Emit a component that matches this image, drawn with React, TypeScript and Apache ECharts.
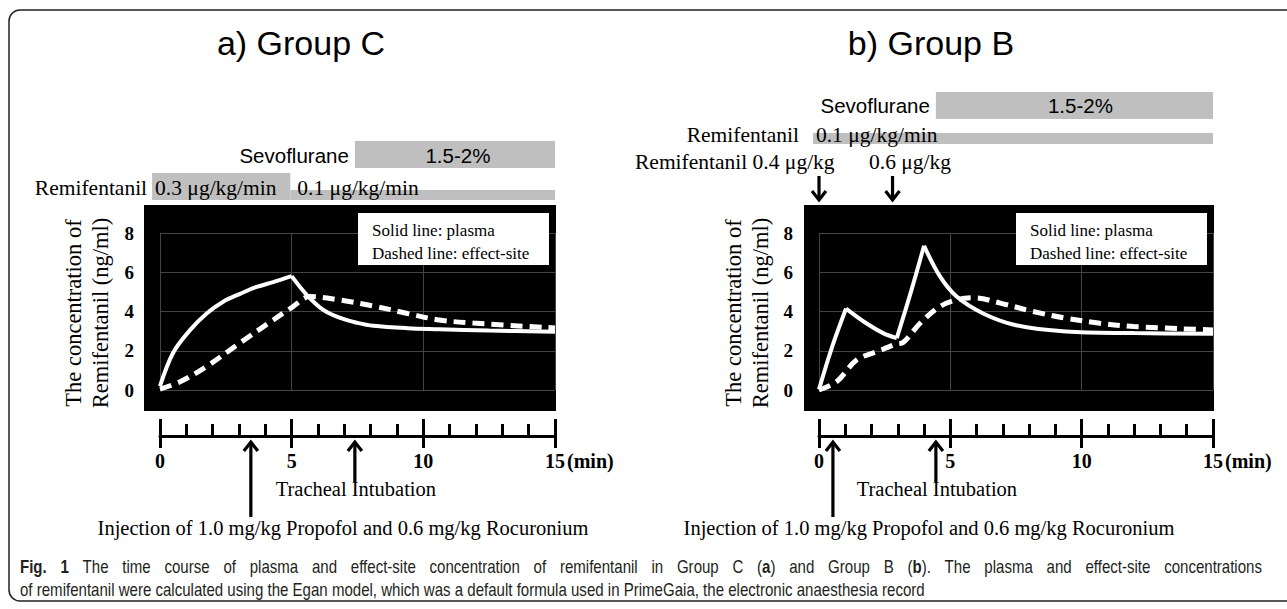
import React, { useEffect, useRef } from 'react';
import * as echarts from 'echarts';

const W = 1287;
const H = 609;
const SERIF = 'Liberation Serif, Times New Roman, serif';
const SANS = 'Liberation Sans, Arial, sans-serif';

// ---- Data (time in min, concentration in ng/ml) ----
// Group C
const cPlasmaRiseT = [0, 0.5, 1.14, 1.77, 2.4, 3.04, 3.67, 4.3, 5];
const cPlasmaRiseV = [0.2, 1.9, 3.05, 3.9, 4.5, 4.9, 5.25, 5.5, 5.8];
const cPlasmaDecayT = [5, 5.57, 6.2, 6.84, 7.5, 8.1, 9.4, 10.6, 12.5, 15];
const cPlasmaDecayV = [5.8, 4.85, 4.08, 3.67, 3.42, 3.27, 3.15, 3.1, 3.03, 2.97];
const cEffectT = [0, 0.76, 1.77, 3.04, 4.3, 5, 5.7, 6.8, 8.1, 9.4, 10.6, 11.9, 15];
const cEffectV = [0.05, 0.42, 1.2, 2.4, 3.57, 4.2, 4.76, 4.59, 4.28, 3.9, 3.57, 3.41, 3.16];

// Group B
const bPlasma1T = [0, 0.5, 1.03];
const bPlasma1V = [0.03, 2.2, 4.15];
const bPlasma2T = [1.03, 1.8, 2.44, 2.96];
const bPlasma2V = [4.15, 3.4, 2.9, 2.64];
const bPlasma3T = [2.96, 3.5, 4.0];
const bPlasma3V = [2.64, 5.0, 7.35];
const bPlasma4T = [4.0, 4.6, 5.24, 6.25, 7.5, 9.4, 12, 15];
const bPlasma4V = [7.35, 5.8, 4.76, 3.9, 3.3, 2.98, 2.9, 2.87];
const bEffectT = [0, 0.67, 1.43, 2.2, 2.96, 3.2, 3.85, 4.6, 5.24, 5.9, 6.9, 8.15, 9.4, 10.7, 12, 15];
const bEffectV = [0, 0.42, 1.53, 1.95, 2.35, 2.42, 3.4, 4.25, 4.6, 4.7, 4.43, 4.0, 3.66, 3.4, 3.23, 3.06];

const yTicks = [0, 2, 4, 6, 8];
const xMajorLabels = ['0', '5', '10', '15'];

// Event times (min)
const cInjectionT = 3.45;
const cIntubationT = 7.4;
const cSevoStartT = 7.4;
const cRemi03EndT = 4.95;
const bInjectionT = 0.53;
const bIntubationT = 4.45;
const bSevoStartT = 4.45;
const bBolus1T = 0;
const bBolus2T = 2.8;

const zip = (t: number[], v: number[]) => t.map((x, i) => [x, v[i]]);

export default function App() {
  const ref = useRef<HTMLDivElement>(null);
  useEffect(() => {
    document.body.style.margin = '0';
    const chart = echarts.init(ref.current!, null, { renderer: 'svg' });

    const grids = [
      { left: 160, top: 233, width: 395, height: 157 },
      { left: 819, top: 233, width: 394, height: 157 },
    ];

    const xAxes: any[] = [];
    const yAxes: any[] = [];
    [0, 1].forEach((g) => {
      xAxes.push({
        type: 'value', gridIndex: g, min: 0, max: 15, interval: 5,
        axisLine: { show: false }, axisTick: { show: false }, axisLabel: { show: false },
        splitLine: { show: true, lineStyle: { color: '#444', width: 1 } },
      });
      xAxes.push({
        type: 'value', gridIndex: g, min: 0, max: 15, interval: 5, position: 'bottom', offset: 46,
        axisLine: { show: true, lineStyle: { color: '#000', width: 3 } },
        axisTick: { show: true, inside: true, length: 17, lineStyle: { color: '#000', width: 3 } },
        minorTick: { show: true, splitNumber: 5, length: 12, lineStyle: { color: '#000', width: 3 } },
        splitLine: { show: false },
        axisLabel: {
          show: true, margin: 15, color: '#000', fontFamily: SERIF, fontWeight: 'bold', fontSize: 20,
          formatter: (v: number) => xMajorLabels[Math.round(v / 5)] ?? '',
        },
      });
      xAxes.push({
        type: 'value', gridIndex: g, min: 0, max: 15, interval: 5, position: 'bottom', offset: 46,
        axisLine: { show: false },
        axisTick: { show: true, inside: false, length: 12, lineStyle: { color: '#000', width: 3 } },
        axisLabel: { show: false }, splitLine: { show: false },
      });
      yAxes.push({
        type: 'value', gridIndex: g, min: 0, max: 8, interval: 2,
        axisLine: { show: false }, axisTick: { show: false },
        axisLabel: {
          show: true, margin: 26, color: '#000', fontFamily: SERIF, fontWeight: 'bold', fontSize: 19,
          formatter: (v: number) => (yTicks.includes(v) ? String(v) : ''),
        },
        splitLine: { show: true, lineStyle: { color: '#444', width: 1 } },
      });
    });

    const solid = { color: '#fff', width: 4, type: 'solid' as const };
    const dashed = { color: '#fff', width: 5, type: [12, 7] as any };
    const mk = (name: string, xi: number, yi: number, data: number[][], ls: any) => ({
      name, type: 'line', xAxisIndex: xi, yAxisIndex: yi, data, smooth: 0.35,
      showSymbol: false, symbol: 'none', lineStyle: ls, z: 5, clip: false,
    });

    const series = [
      mk('C plasma rise', 0, 0, zip(cPlasmaRiseT, cPlasmaRiseV), solid),
      mk('C plasma decay', 0, 0, zip(cPlasmaDecayT, cPlasmaDecayV), solid),
      mk('C effect-site', 0, 0, zip(cEffectT, cEffectV), dashed),
      mk('B plasma 1', 3, 1, zip(bPlasma1T, bPlasma1V), solid),
      mk('B plasma 2', 3, 1, zip(bPlasma2T, bPlasma2V), solid),
      mk('B plasma 3', 3, 1, zip(bPlasma3T, bPlasma3V), solid),
      mk('B plasma 4', 3, 1, zip(bPlasma4T, bPlasma4V), solid),
      mk('B effect-site', 3, 1, zip(bEffectT, bEffectV), dashed),
    ];

    chart.setOption({
      animation: false,
      backgroundColor: '#fff',
      grid: grids,
      xAxis: xAxes,
      yAxis: yAxes,
      series,
    });

    const px = (g: number, t: number) => (chart.convertToPixel({ gridIndex: g } as any, [t, 0]) as number[])[0];

    const text = (t: string, x: number, y: number, font: string, align = 'left', extra: any = {}) => ({
      type: 'text', x, y, z: 20,
      style: { text: t, font, fill: '#000', align, textAlign: align, verticalAlign: 'middle', textVerticalAlign: 'middle', ...extra },
    });
    const rect = (x: number, y: number, w: number, h: number, fill: string, z = 10) => ({
      type: 'rect', z, shape: { x, y, width: w, height: h }, style: { fill },
    });
    const line = (pts: number[][]) => ({ type: 'polyline', z: 20, shape: { points: pts }, style: { stroke: '#000', lineWidth: 3.2, fill: null } });
    const upArrow = (x: number, yTip: number, yEnd: number) => ([
      line([[x, yTip + 2], [x, yEnd]]),
      line([[x - 7, yTip + 10], [x, yTip + 1], [x + 7, yTip + 10]]),
    ]);
    const downArrow = (x: number, yStart: number, yTip: number) => ([
      line([[x, yStart], [x, yTip - 2]]),
      line([[x - 7, yTip - 10], [x, yTip - 1], [x + 7, yTip - 10]]),
    ]);

    const f20s = `20.5px ${SANS}`;
    const f21 = `21.5px ${SERIF}`;
    const fAnn = `20.5px ${SERIF}`;
    const f17 = `17px ${SERIF}`;
    const grey = '#bfbfbf';

    const els: any[] = [];
    els.push({ type: 'rect', z: 1, shape: { x: 9, y: 10, width: 1320, height: 591, r: 11 }, style: { fill: 'none', stroke: '#222', lineWidth: 1.5 } });

    // black plot backgrounds
    const c0 = px(0, 0), c15 = px(0, 15);
    const b0 = px(1, 0), b15 = px(1, 15);
    els.push(rect(c0 - 16, 205, c15 - c0 + 17, 206, '#000', -10));
    els.push(rect(b0 - 15, 205, b15 - b0 + 16, 206, '#000', -10));

    // titles
    els.push(text('a) Group C', 301, 43, `34px ${SANS}`, 'center'));
    els.push(text('b) Group B', 931, 43, `34px ${SANS}`, 'center'));

    // ---- Group C top bars ----
    const cSevo = px(0, cSevoStartT);
    els.push(rect(cSevo, 141, c15 - cSevo, 27, grey));
    els.push(text('Sevoflurane', cSevo - 6, 155, f20s, 'right'));
    els.push(text('1.5-2%', (cSevo + c15) / 2 + 3, 155, f20s, 'center'));
    const cR0 = px(0, -0.3), cR1 = px(0, cRemi03EndT);
    els.push(rect(cR0, 173, cR1 - cR0, 27, grey));
    els.push(rect(cR1, 190, c15 - cR1, 10, grey));
    els.push(text('Remifentanil', cR0 - 5, 188, f21, 'right'));
    els.push(text('0.3 μg/kg/min', cR0 + 3, 188, f21, 'left'));
    els.push(text('0.1 μg/kg/min', cR1 + 7, 188, f21, 'left'));

    // ---- Group B top bars ----
    const bSevo = px(1, bSevoStartT);
    els.push(rect(bSevo, 92, b15 - bSevo, 27, grey));
    els.push(text('Sevoflurane', bSevo - 6, 105, f20s, 'right'));
    els.push(text('1.5-2%', (bSevo + b15) / 2 + 6, 105, f20s, 'center'));
    const bR0 = px(1, -0.23);
    els.push(rect(bR0, 133, b15 - bR0, 11, grey));
    els.push(text('Remifentanil', bR0 - 14, 135, f21, 'right'));
    els.push(text('0.1 μg/kg/min', bR0 + 3, 135, f21, 'left'));
    els.push(text('Remifentanil 0.4 μg/kg', 635, 162, f21, 'left'));
    els.push(text('0.6 μg/kg', 869, 162, f21, 'left'));
    els.push(...downArrow(px(1, bBolus1T), 176, 201));
    els.push(...downArrow(px(1, bBolus2T), 176, 201));

    // legends in plots
    const legend = (x: number) => [
      rect(x, 213, 191, 52, '#fff', 15),
      text('Solid line: plasma', x + 14, 230, f17, 'left'),
      text('Dashed line: effect-site', x + 14, 253, f17, 'left'),
    ];
    els.push(...legend(358));
    els.push(...legend(1016));

    // y-axis titles
    const yTitle = (cx1: number, cx2: number) => [
      { ...text('The concentration of', cx1, 313, `22.5px ${SERIF}`, 'center'), rotation: Math.PI / 2 },
      { ...text('Remifentanil (ng/ml)', cx2, 313, `22.5px ${SERIF}`, 'center'), rotation: Math.PI / 2 },
    ];
    els.push(...yTitle(73, 100));
    els.push(...yTitle(733, 760));

    // (min) unit labels
    els.push(text('(min)', c15 + 12, 461, `bold 20px ${SERIF}`, 'left'));
    els.push(text('(min)', b15 + 12, 461, `bold 20px ${SERIF}`, 'left'));

    // bottom arrows and annotations
    const cInj = px(0, cInjectionT), cInt = px(0, cIntubationT);
    els.push(...upArrow(cInj, 441, 517));
    els.push(...upArrow(cInt, 441, 482));
    els.push(text('Tracheal Intubation', cInt + 1, 489, fAnn, 'center'));
    els.push(text('Injection of 1.0 mg/kg Propofol and 0.6 mg/kg Rocuronium', 343, 528, fAnn, 'center'));
    const bInj = px(1, bInjectionT), bInt = px(1, bIntubationT);
    els.push(...upArrow(bInj, 441, 517));
    els.push(...upArrow(bInt, 441, 482));
    els.push(text('Tracheal Intubation', bInt + 1, 489, fAnn, 'center'));
    els.push(text('Injection of 1.0 mg/kg Propofol and 0.6 mg/kg Rocuronium', 929, 528, fAnn, 'center'));

    // caption: Liberation Sans condensed horizontally; first line justified
    const capSize = 17.5;
    const capColor = '#231f20';
    const ctx = document.createElement('canvas').getContext('2d')!;
    const reg = `${capSize}px "Liberation Sans"`;
    const bld = `bold ${capSize}px "Liberation Sans"`;
    const measure = (s: string, b: boolean) => { ctx.font = b ? bld : reg; return ctx.measureText(s).width; };
    const l2 = 'of remifentanil were calculated using the Egan model, which was a default formula used in PrimeGaia, the electronic anaesthesia record';
    const sx = 905 / measure(l2, false);
    // each word: list of [piece, bold]
    const l1Words: [string, boolean][][] = [
      [['Fig.', true]], [['1', true]],
      ...'The time course of plasma and effect-site concentration of remifentanil in Group C'.split(' ').map((w) => [[w, false]] as [string, boolean][]),
      [['(', false], ['a', true], [')', false]],
      [['and', false]], [['Group', false]], [['B', false]],
      [['(', false], ['b', true], [').', false]],
      ...'The plasma and effect-site concentrations'.split(' ').map((w) => [[w, false]] as [string, boolean][]),
    ];
    const wordW = l1Words.map((pcs) => pcs.reduce((a, [s, b]) => a + measure(s, b), 0) * sx);
    const x0 = 20, x1 = 1262;
    const gap = (x1 - x0 - wordW.reduce((a, b) => a + b, 0)) / (l1Words.length - 1);
    const capText = (s: string, x: number, y: number, b: boolean) => ({
      type: 'text', x, y, z: 20, scaleX: sx,
      style: { text: s, font: `${b ? 'bold ' : ''}${capSize}px ${SANS}`, fill: capColor, align: 'left', textAlign: 'left', verticalAlign: 'middle', textVerticalAlign: 'middle' },
    });
    let cx = x0;
    l1Words.forEach((pcs, i) => {
      let px2 = cx;
      pcs.forEach(([s, b]) => {
        els.push(capText(s, px2, 567, b));
        px2 += measure(s, b) * sx;
      });
      cx += wordW[i] + gap;
    });
    els.push(capText(l2, x0, 590, false));

    chart.setOption({ graphic: { elements: els } });

    return () => chart.dispose();
  }, []);
  return <div ref={ref} style={{ width: W, height: H }} />;
}
